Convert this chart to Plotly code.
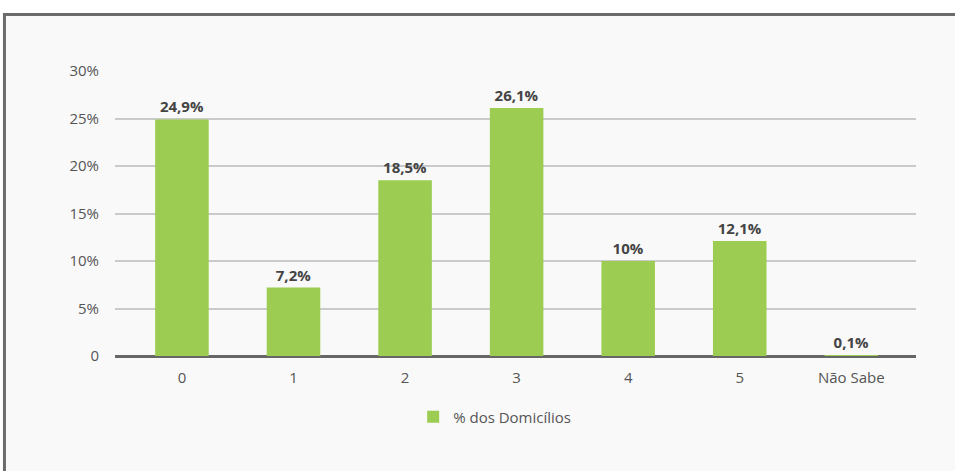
import plotly.graph_objects as go

categorias = ['0', '1', '2', '3', '4', '5', 'Não Sabe']
valores = [24.9, 7.2, 18.5, 26.1, 10, 12.1, 0.1]
rotulos = ['24,9%', '7,2%', '18,5%', '26,1%', '10%', '12,1%', '0,1%']
ticks_y = [0, 5, 10, 15, 20, 25, 30]
ticks_y_texto = ['0', '5%', '10%', '15%', '20%', '25%', '30%']

fig = go.Figure(
    data=go.Bar(
        x=categorias,
        y=valores,
        text=rotulos,
        textposition='outside',
        textfont=dict(size=15, color='#444444', family='Open Sans', weight='bold'),
        marker=dict(color='#9ccd52', line=dict(width=0)),
        width=0.48,
        name='% dos Domicílios',
        cliponaxis=False,
    )
)

# frame around the chart
fig.add_shape(
    type='rect', xref='paper', yref='paper',
    x0=-0.138, x1=1.2, y0=-0.6, y1=1.198,
    fillcolor='#f9f9f9', line=dict(color='#6b6b6b', width=3),
    layer='below',
)

fig.update_layout(
    width=955, height=471,
    margin=dict(l=115, r=39, t=71, b=115),
    paper_bgcolor='white',
    plot_bgcolor='rgba(0,0,0,0)',
    font=dict(family='Open Sans', size=15, color='#555555'),
    showlegend=True,
    legend=dict(
        orientation='h', x=0.474, xanchor='center', y=-0.214, yanchor='middle',
        font=dict(size=15, color='#555555'), bgcolor='rgba(0,0,0,0)',
    ),
)
fig.update_xaxes(
    type='category', range=[-0.6, 6.58],
    showgrid=False, showline=False,
    ticks='outside', ticklen=8, tickcolor='rgba(0,0,0,0)',
)
fig.update_yaxes(
    range=[0, 30], tickvals=ticks_y, ticktext=ticks_y_texto,
    showgrid=True, gridcolor='#cacaca', gridwidth=2,
    zeroline=True, zerolinecolor='#666666', zerolinewidth=2.5,
    ticks='outside', ticklen=12, tickcolor='rgba(0,0,0,0)',
)

fig.write_html(
    'out.html',
    config={'displayModeBar': False},
    post_script="document.body.style.margin='0';",
)
